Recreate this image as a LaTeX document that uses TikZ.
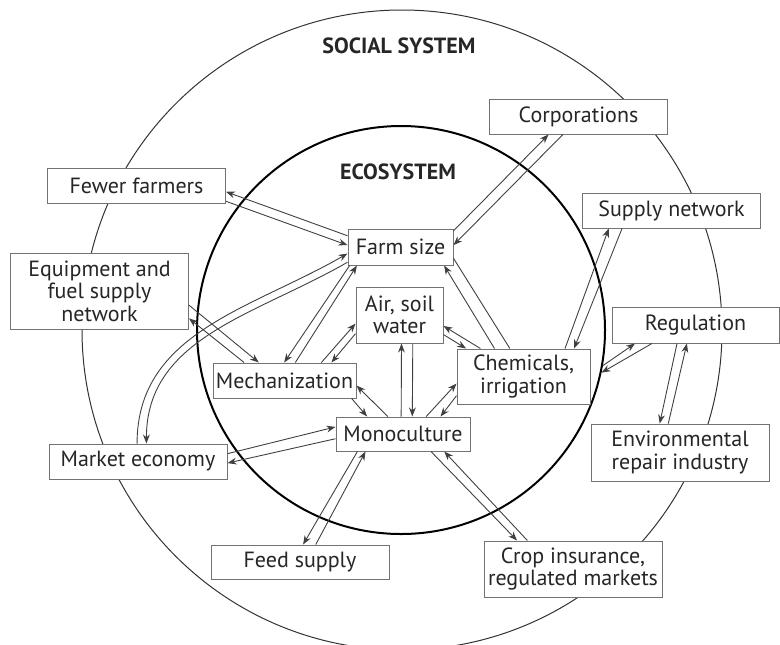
\documentclass[tikz,border=0pt]{standalone}
\usepackage{fontspec}
\setmainfont{PT Sans}
\usetikzlibrary{arrows.meta}

\tikzset{
  box/.style={draw=black!55, fill=white, line width=0.5pt, inner sep=0pt, align=center,
    text=black!85, minimum width=89pt, minimum height=17.5pt,
    font=\fontsize{11}{11.2}\selectfont},
  title/.style={text=black!85, font=\bfseries\fontsize{11}{13}\selectfont},
  conn/.style={color=black!75, line width=0.45pt}
}

\begin{document}
\begin{tikzpicture}[x=0.5pt, y=-0.5pt, >={Stealth[length=4.5pt,width=3.4pt]}]
    \useasboundingbox (0,0) rectangle (780,644);

    % the two systems
    \draw[black!80, line width=0.5pt] (402,330) circle[radius=160pt];
    \node[draw, circle, line width=1pt, inner sep=0pt, minimum size=204pt] (eco) at (401,330) {};
    \node[title] (social) at (399,46) {SOCIAL SYSTEM};
    \node[title] (ecotitle) at (398,172) {ECOSYSTEM};

    % ecosystem
    \node[box, minimum width=52.5pt, minimum height=18pt] (farm) at (400.5,247) {Farm size};
    \node[box, minimum width=43.5pt, minimum height=28pt] (air) at (399.5,315) {Air, soil\\water};
    \node[box, minimum width=71.5pt] (mech) at (284.5,380.5) {Mechanization};
    \node[box, minimum width=66.5pt, minimum height=27.5pt] (chem) at (523.5,376.5) {Chemicals,\\irrigation};
    \node[box, minimum width=67pt, minimum height=17pt] (mono) at (403,434) {Monoculture};

    % social system
    \node[box] (fewer) at (136.5,185.5) {Fewer farmers};
    \node[box, minimum height=38pt] (equip) at (99.5,291) {Equipment and\\fuel supply\\network};
    \node[box] (market) at (138,461.5) {Market economy};
    \node[box, minimum height=17pt] (feed) at (300,562) {Feed supply};
    \node[box] (corp) at (578.5,116.5) {Corporations};
    \node[box] (supply) at (671.5,210.5) {Supply network};
    \node[box, minimum width=83.5pt, minimum height=18pt] (reg) at (695.5,325) {Regulation};
    \node[box, minimum height=28.5pt] (env) at (680,452.5) {Environmental\\repair industry};
    \node[box, minimum height=28pt] (crop) at (573,569) {Crop insurance,\\regulated markets};

    \path[->, conn]
    % farm size
    (farm.168) edge (fewer.-4)
    (fewer.-10.6) edge (farm.178)
    (market.93) edge [out=90, in=-150] (farm.-173.5)
    (farm.-164) edge [out=-150, in=90] (market.65)
    (farm.17.9) edge (corp.-149.3)
    (corp.-131.5) edge (farm.2.2)
    (mech.59) edge (farm.-157)
    (farm.-160.4) edge (mech.91.6)
    (chem.136) edge (farm.-23.4)
    (chem.116.1) edge [-] (farm.-12.9)
    % mechanization
    (equip.-9) edge (mech.145.5)
    (mech.156) edge (equip.-17.6)
    (mech.26.2) edge (air.-169.6)
    (air.-157.5) edge (mech.21.9)
    (mono.131.4) edge (mech.-4.4)
    (mech.-15) edge (mono.154.7)
    % air, soil, water
    (mono.96.7) edge (air.-86.9)
    (air.-65.9) edge (mono.62.1)
    (chem.147.7) edge (air.-14.2)
    (air.-24.7) edge (chem.154.4)
    % chemicals
    (chem.34.8) edge (supply.-164.1)
    (supply.-160.2) edge (chem.29.1)
    (mono.37.7) edge (chem.-174.4)
    (chem.-164.5) edge (mono.25.9)
    % regulation
    (eco.-10) edge (reg.-163.4)
    (reg.-157.5) edge (eco.-12.5)
    (reg.-135.8) edge (env.125)
    (env.112.8) edge (reg.-115.3)
    % monoculture
    (market.5.5) edge (mono.174.9)
    (mono.-176.6) edge (market.-1)
    (mono.-159.7) edge (feed.80)
    (feed.48.6) edge (mono.-155.3)
    (mono.-32.2) edge (crop.153)
    (crop.148.1) edge (mono.-23.6);
\end{tikzpicture}
\end{document}
